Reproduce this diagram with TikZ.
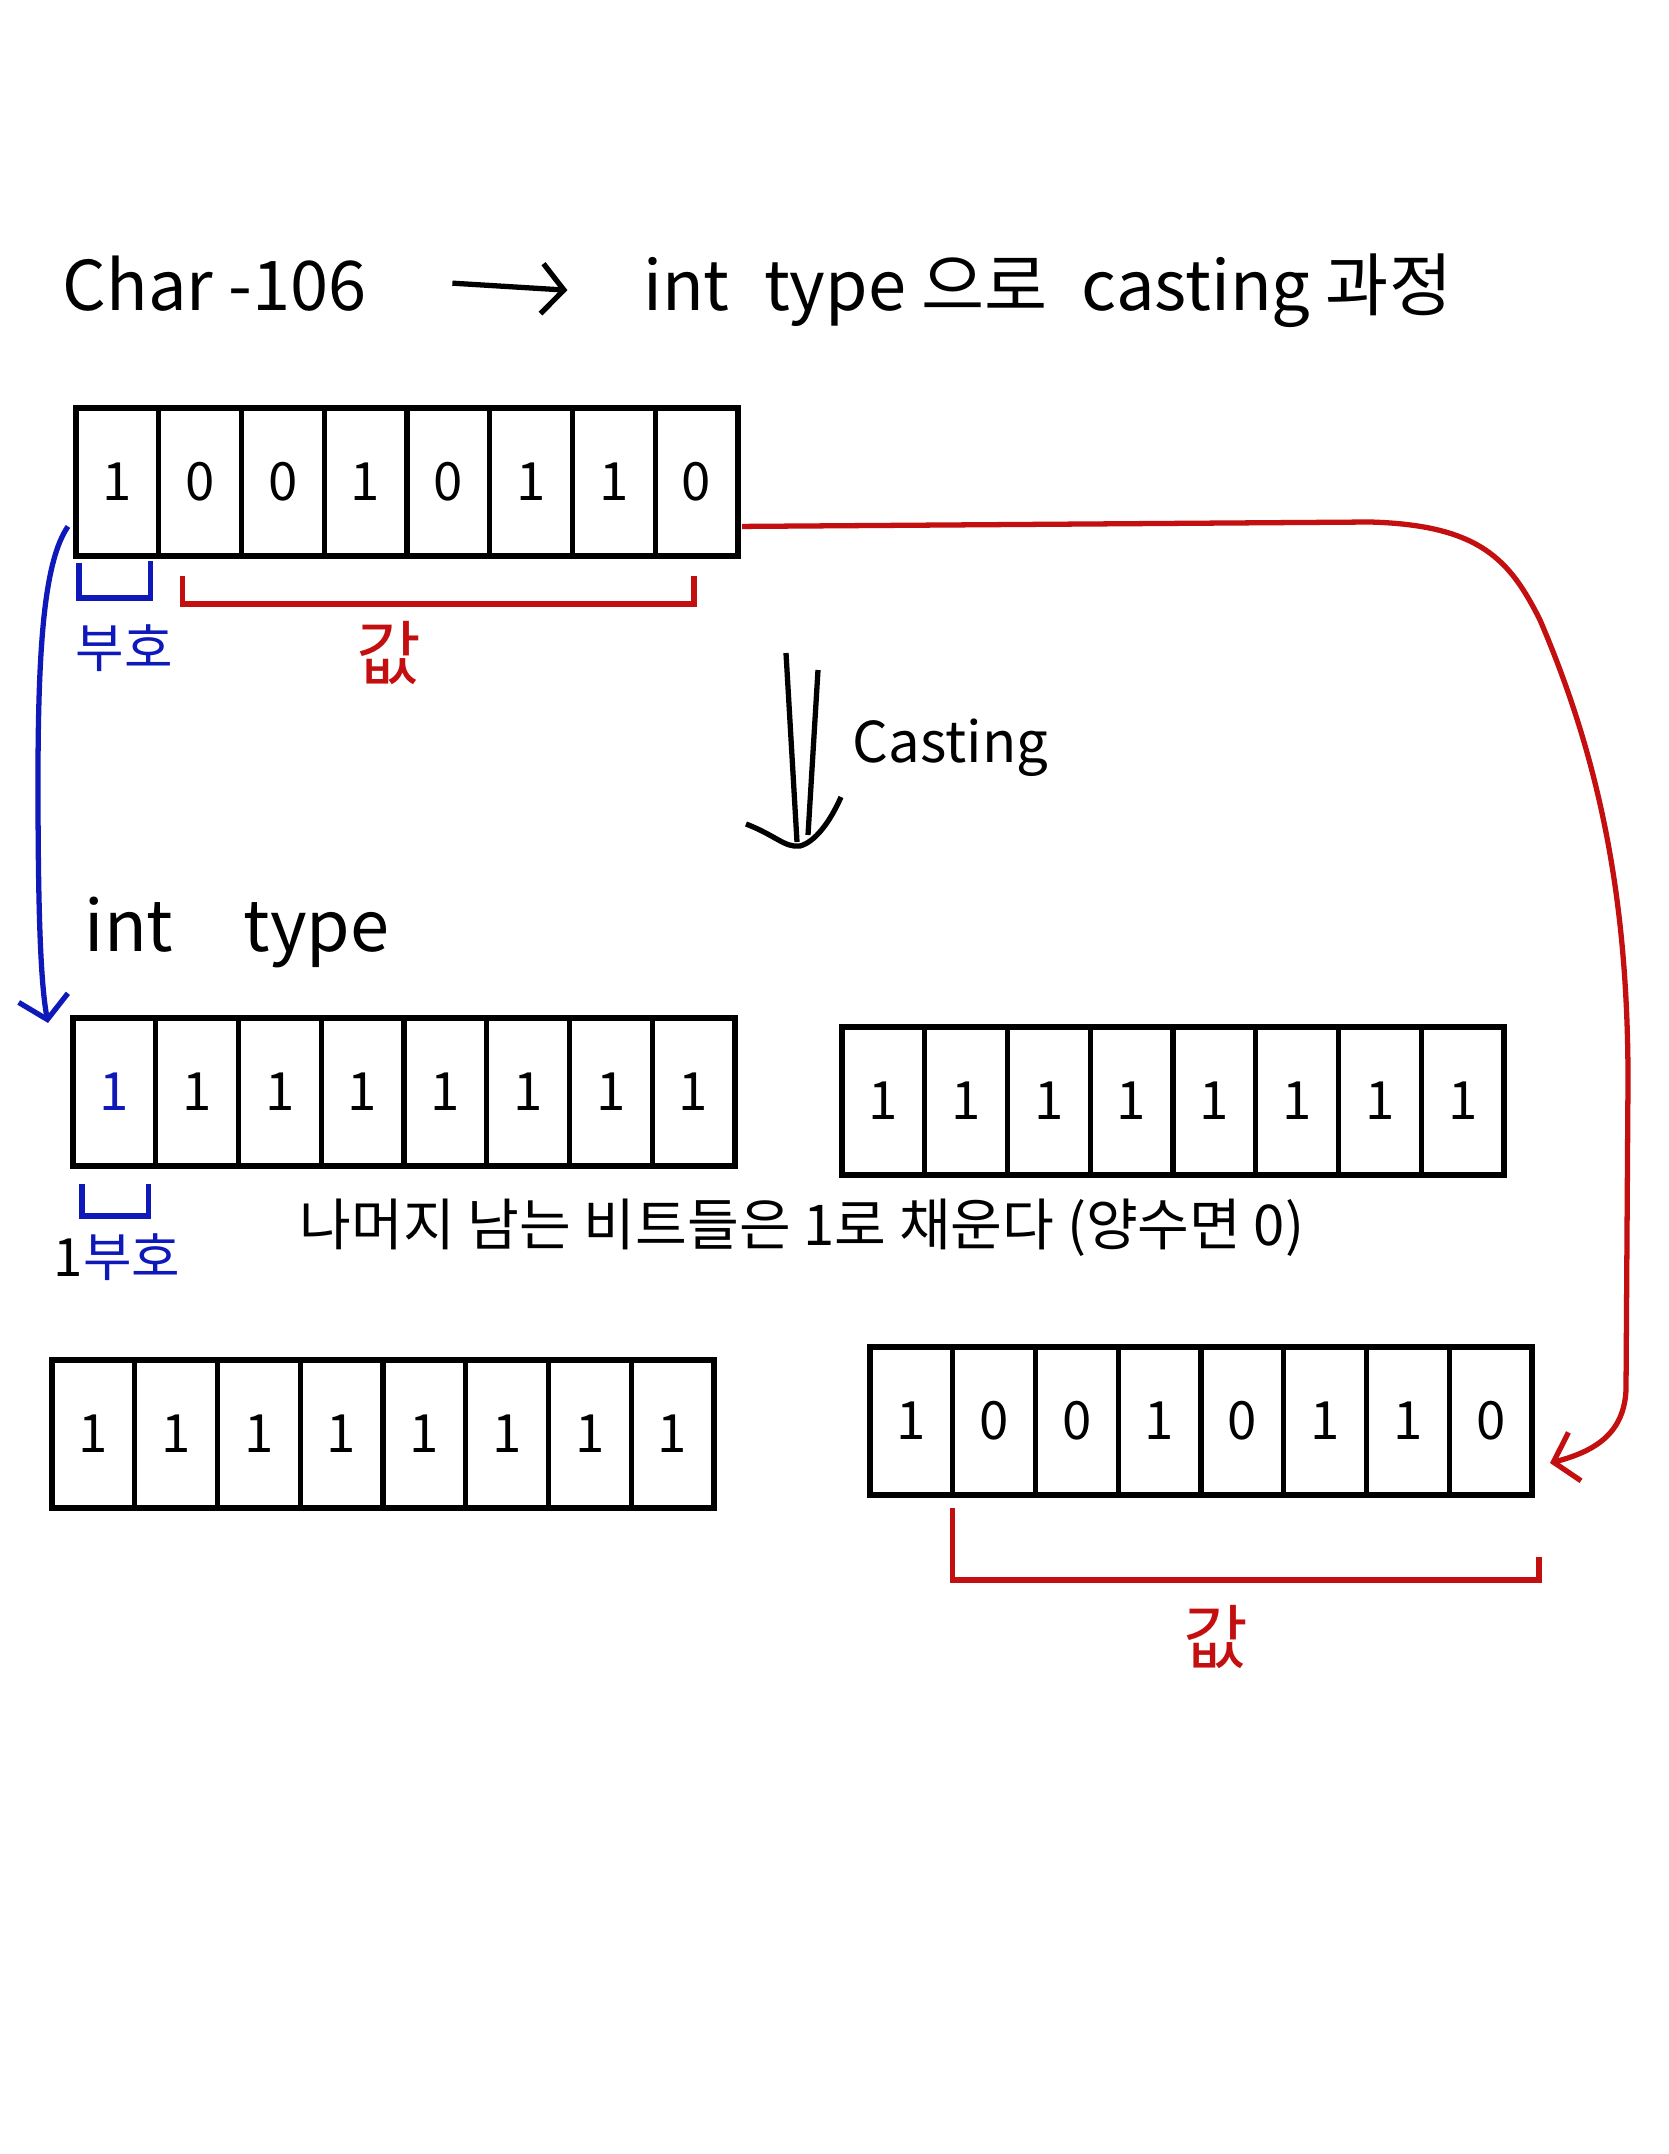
\documentclass[tikz,border=0pt]{standalone}
\usepackage{fontspec}
\setmainfont{Noto Sans CJK KR}
\usepackage{xcolor}
\definecolor{signblue}{RGB}{15,25,185}
\definecolor{valred}{RGB}{195,15,15}
\usetikzlibrary{arrows.meta,positioning,calc}
\tikzset{
  bit_cell/.style={rectangle,draw=black,line width=1.5pt,
    minimum width=0.8275cm,minimum height=1.48cm,
    inner sep=0pt,outer sep=0pt,
    font=\fontsize{15}{18}\selectfont},
  hand_txt/.style={inner sep=0pt,font=\fontsize{19.5}{24}\selectfont},
  sign_lbl/.style={inner sep=0pt,text=signblue,
    font=\fontsize{15}{18}\selectfont},
  val_lbl/.style={inner sep=0pt,text=valred,
    font=\fontsize{20}{24}\selectfont},
  sign_br/.style={draw=signblue,line width=1.5pt},
  val_br/.style={draw=valred,line width=1.5pt},
  arr/.style={-{Straight Barb[length=0.22cm,width=0.5cm]},line width=1.5pt},
  sign_arr/.style={arr,draw=signblue},
  val_arr/.style={arr,draw=valred},
}

\begin{document}
\begin{tikzpicture}[x=0.01cm,y=-0.01cm]

  \fill[white] (0,0) rectangle (1668,2154);
  \useasboundingbox (0,0) rectangle (1668,2154);

  % title
  \node (ttl_src) [hand_txt, anchor=base west] at (62,310) {Char -106};
  \node (ttl_dst) [hand_txt, right=2.75cm of ttl_src.base east,
                   anchor=base west]
    {int\enspace type 으로\enspace casting 과정};
  \draw[arr] ([xshift=0.85cm]ttl_src.east) -- ([xshift=-0.75cm]ttl_dst.west);

  % char bits
  \foreach \v [count=\i] in {1,0,0,1,0,1,1,0}
    \node[bit_cell] (chr-\i) at ({76+82.75*(\i-0.5)},482) {\v};

  \draw[sign_br] ([xshift=0.03cm,yshift=-0.07cm]chr-1.south west)
    -- ++(0,35) -| ([xshift=-0.08cm,yshift=-0.05cm]chr-1.south east);
  \node (sgn1) [sign_lbl] at (124,648) {부호};

  \draw[val_br] ([xshift=0.24cm,yshift=-0.2cm]chr-2.south west)
    -- ++(0,28) -| ([xshift=-0.44cm,yshift=-0.2cm]chr-8.south east);
  \node (val1) [val_lbl] at (389,653) {값};

  % casting arrow
  \coordinate (cst1a) at (786,653);
  \coordinate (cst1b) at (797,842);
  \coordinate (cst2a) at (818,670);
  \coordinate (cst2b) at (808,835);
  \coordinate (cstl) at (746,824);
  \coordinate (cstr) at (841,797);
  \draw[line width=1.5pt] (cst1a) -- (cst1b);
  \draw[line width=1.5pt] (cst2a) -- (cst2b);
  \draw[line width=1.5pt] (cstl) .. controls (775,835) and (785,848) .. (800,846)
    .. controls (815,842) and (830,822) .. (cstr);
  \node (cst) [hand_txt, anchor=west, font=\fontsize{16}{20}\selectfont]
    at (852,748) {Casting};

  % int type
  \node (int) [hand_txt, anchor=west, font=\fontsize{20}{24}\selectfont]
    at (84,932) {int\quad type};

  \foreach \v [count=\i] in {{\color{signblue}1},1,1,1,1,1,1,1}
    \node[bit_cell] (byte1-\i) at ({73+82.75*(\i-0.5)},1092) {\v};
  \foreach \v [count=\i] in {1,1,1,1,1,1,1,1}
    \node[bit_cell] (byte2-\i) at ({842+82.75*(\i-0.5)},1101) {\v};
  \foreach \v [count=\i] in {1,1,1,1,1,1,1,1}
    \node[bit_cell] (byte3-\i) at ({52+82.75*(\i-0.5)},1434) {\v};
  \foreach \v [count=\i] in {1,0,0,1,0,1,1,0}
    \node[bit_cell] (byte4-\i) at ({870+82.75*(\i-0.5)},1421) {\v};

  \draw[sign_br] ([xshift=0.09cm,yshift=-0.18cm]byte1-1.south west)
    -- ++(0,32) -| ([xshift=-0.07cm,yshift=-0.18cm]byte1-1.south east);
  \node (sgn2) [sign_lbl] at (117,1257) {{\color{black}1}부호};

  \node (fill) [hand_txt, font=\fontsize{16}{20}\selectfont] at (802,1228)
    {나머지 남는 비트들은 1로 채운다 (양수면 0)};

  \draw[val_br] ([yshift=-0.13cm]byte4-2.south west)
    -- ++(0,72) -| ([xshift=0.07cm,yshift=-0.62cm]byte4-8.south east);
  \node (val2) [val_lbl] at (1216,1637) {값};

  % sign bit arrow
  \draw[sign_arr] ($(chr-1.west)!0.6!(chr-1.south west)+(-8,0)$)
    .. controls (45,560) and (38,640) .. (38,780)
    .. controls (38,900) and (40,980) .. ($(byte1-1.north west)+(-25,5)$);

  % value bits arrow
  \draw[val_arr] ($(chr-8.east)!0.6!(chr-8.south east)+(4,0)$)
    -- (1370,522)
    .. controls (1480,525) and (1510,560) .. (1540,620)
    .. controls (1600,760) and (1628,900) .. (1628,1080)
    -- (1626,1390)
    .. controls (1624,1430) and (1600,1450) .. ($(byte4-8.east)+(18,42)$);

\end{tikzpicture}
\end{document}
